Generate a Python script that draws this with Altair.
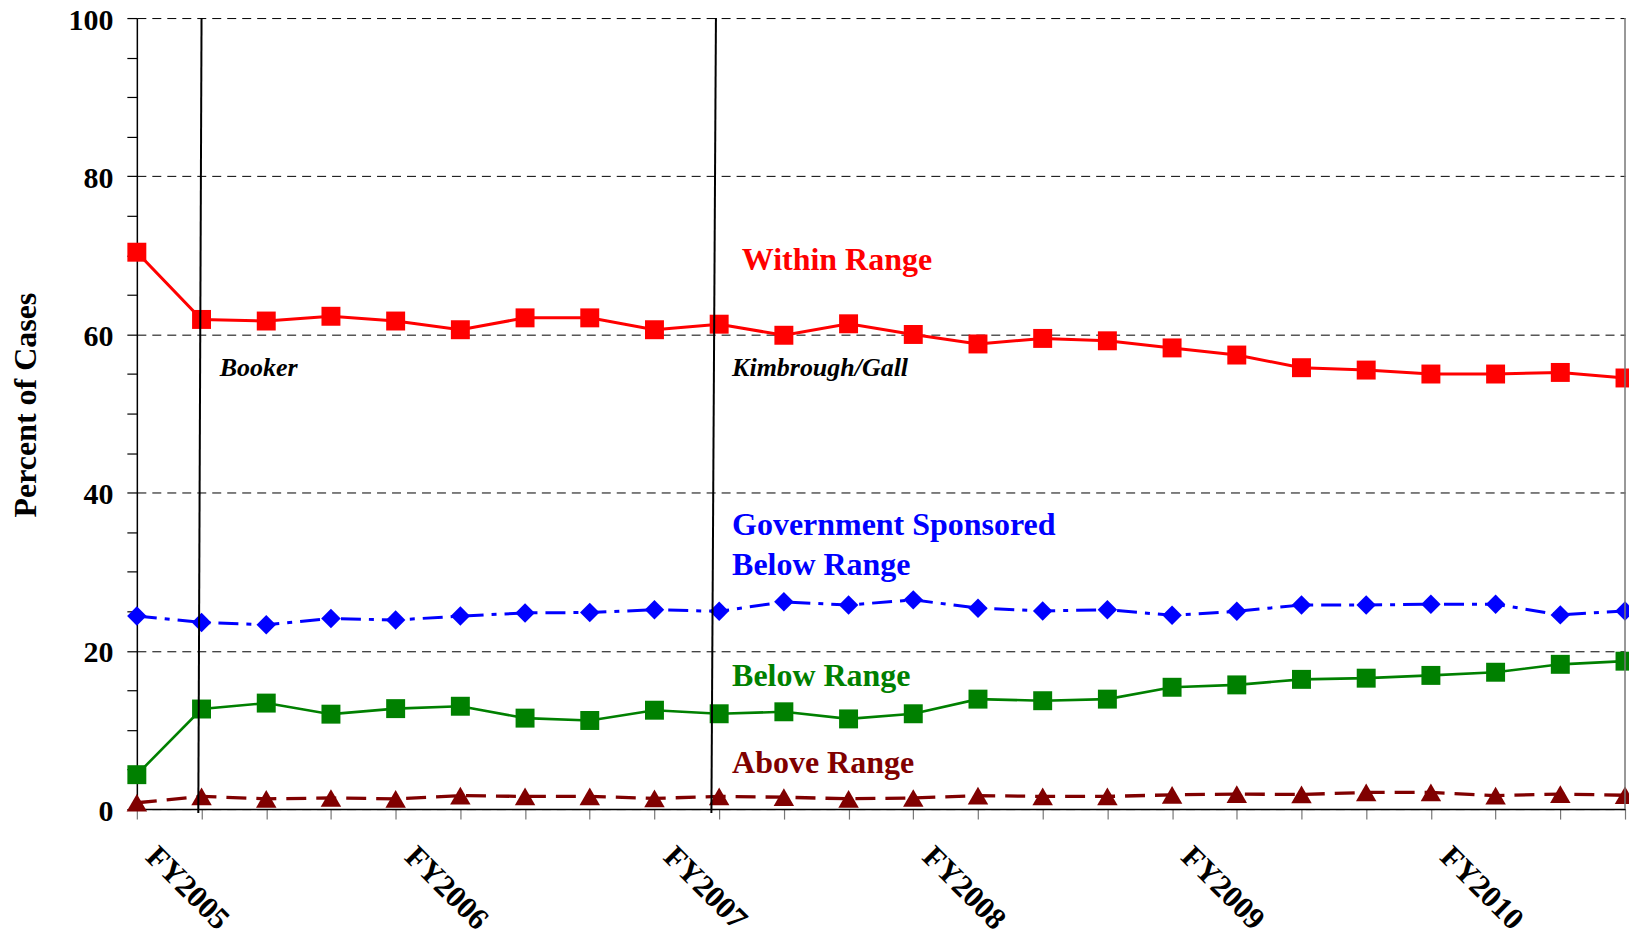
import altair as alt
import pandas as pd

# ---- data (quarterly, FY2005 Q1 .. FY2010 Q4) ----
quarter_index = list(range(24))
year_labels = ["FY2005", "FY2006", "FY2007", "FY2008", "FY2009", "FY2010"]

within_range = [70.4, 61.9, 61.7, 62.3, 61.7, 60.6, 62.1, 62.1, 60.6, 61.3, 59.9, 61.35,
                60.0, 58.8, 59.5, 59.2, 58.3, 57.4, 55.8, 55.5, 55.0, 55.0, 55.2, 54.5]
gov_sponsored = [24.4, 23.6, 23.3, 24.1, 23.9, 24.4, 24.8, 24.85, 25.2, 25.0, 26.2, 25.8,
                 26.45, 25.4, 25.05, 25.2, 24.5, 25.0, 25.8, 25.8, 25.9, 25.9, 24.55, 25.05]
below_range = [4.35, 12.65, 13.4, 12.0, 12.7, 13.0, 11.5, 11.2, 12.5, 12.05, 12.3, 11.4,
               12.05, 13.9, 13.7, 13.9, 15.4, 15.7, 16.4, 16.55, 16.9, 17.3, 18.3, 18.7]
above_range = [0.8, 1.6, 1.3, 1.4, 1.3, 1.7, 1.6, 1.6, 1.35, 1.6, 1.5, 1.3,
               1.4, 1.7, 1.6, 1.6, 1.8, 1.9, 1.85, 2.1, 2.1, 1.7, 1.9, 1.75]

event_names = ["Booker", "Kimbrough/Gall"]
event_x_top = [1.0, 8.95]
event_x_bottom = [0.95, 8.88]

series_labels = ["Within Range", "Government Sponsored", "Below Range", "Below Range", "Above Range"]
series_label_x = [9.35, 9.2, 9.2, 9.2, 9.2]
series_label_y = [68.1, 34.66, 29.6, 15.6, 4.5]
series_label_color = ["#FF0000", "#0000FF", "#0000FF", "#008000", "#800000"]
event_label_x = [1.28, 9.2]
event_label_y = [54.7, 54.8]

FONT = "Liberation Serif"
W, H = 1490, 792

xscale = alt.Scale(domain=[0, 23], nice=False, zero=False)
yscale = alt.Scale(domain=[0, 100], nice=False, zero=True)

label_expr = "datum.value % 4 === 0 ? " + str(year_labels) + "[datum.value / 4] : ''"

x_axis = alt.Axis(
    values=quarter_index, labelExpr=label_expr, title=None, grid=False,
    labelAngle=45, labelAlign="left", labelBaseline="top", labelOffset=24,
    labelPadding=22, labelFlush=False, labelOverlap=False, labelBound=False,
    labelFont=FONT, labelFontSize=31, labelFontWeight="bold", labelColor="black",
    tickSize=10, tickColor="#777777", tickWidth=1.2,
    domainColor="black", domainWidth=1.5,
)
y_axis = alt.Axis(
    values=list(range(0, 101, 5)),
    labelExpr="datum.value % 20 === 0 ? datum.label : ''",
    labelOverlap=False, labelFlush=False,
    labelFont=FONT, labelFontSize=30, labelFontWeight="bold", labelColor="black",
    labelPadding=14, labelOffset=2,
    tickSize=10, tickColor="black", tickWidth=1.2,
    domainColor="black", domainWidth=1.5,
    grid=True, gridColor="black", gridDash=[9, 6], gridWidth=1,
    gridOpacity={"condition": {"test": "datum.value % 20 === 0", "value": 1}, "value": 0},
    title="Percent of Cases", titleFont=FONT, titleFontSize=32, titleFontWeight="bold",
    titleColor="black", titleAngle=270, titleX=-101, titleY=387,
    titleAlign="center", titleBaseline="alphabetic",
)


def X(field):
    return alt.X(field, scale=xscale, axis=x_axis)


def Y(field):
    return alt.Y(field, scale=yscale, axis=y_axis)


df = pd.DataFrame({"q": quarter_index, "within": within_range, "gov": gov_sponsored,
                   "below": below_range, "above": above_range})

base = alt.Chart(df)


def series(field, color, shape, size, width, dash=None):
    line_kwargs = dict(color=color, strokeWidth=width)
    if dash:
        line_kwargs["strokeDash"] = dash
    line = base.mark_line(**line_kwargs).encode(x=X("q:Q"), y=Y(f"{field}:Q"))
    pts = base.mark_point(shape=shape, size=size, filled=True, color=color, opacity=1).encode(
        x=X("q:Q"), y=Y(f"{field}:Q"))
    return line + pts


within_layer = series("within", "#FF0000", "square", 360, 3)
gov_layer = series("gov", "#0000FF", "diamond", 380, 3, dash=[20, 8, 5, 8])
below_layer = series("below", "#008000", "square", 360, 2.6)
above_layer = series("above", "#800000", "triangle-up", 420, 3.3, dash=[20, 10])

# right border of plot
border = alt.Chart(pd.DataFrame({"x": [23], "y0": [0], "y1": [100]})).mark_rule(
    color="#777777", strokeWidth=1.5).encode(x=X("x:Q"), y=Y("y0:Q"), y2="y1:Q")

# event lines
ev_df = pd.DataFrame({"name": event_names, "xt": event_x_top, "xb": event_x_bottom,
                      "yt": [100, 100], "yb": [-0.5, -0.5]})
events = alt.Chart(ev_df).mark_rule(color="black", strokeWidth=2).encode(
    x=X("xt:Q"), x2="xb:Q", y=Y("yt:Q"), y2="yb:Q")

ev_lab_df = pd.DataFrame({"name": event_names, "x": event_label_x, "y": event_label_y})
event_labels = alt.Chart(ev_lab_df).mark_text(
    align="left", baseline="alphabetic", font=FONT, fontSize=26, fontWeight="bold",
    fontStyle="italic", color="black").encode(x=X("x:Q"), y=Y("y:Q"), text="name:N")

lab_df = pd.DataFrame({"t": series_labels, "x": series_label_x, "y": series_label_y,
                       "c": series_label_color})
series_text = alt.Chart(lab_df).mark_text(
    align="left", baseline="alphabetic", font=FONT, fontSize=32, fontWeight="bold").encode(
    x=X("x:Q"), y=Y("y:Q"), text="t:N", color=alt.Color("c:N", scale=None))

chart = alt.layer(
    within_layer, gov_layer, below_layer, above_layer, border, events,
    event_labels, series_text,
).properties(
    width=W, height=H,
    autosize=alt.AutoSizeParams(type="none"),
    padding={"left": 129, "top": 9.5, "right": 4, "bottom": 130},
).configure(background="white", view=alt.ViewConfig(stroke=None))

chart.save("out.html", embed_options={"renderer": "svg", "actions": False})
